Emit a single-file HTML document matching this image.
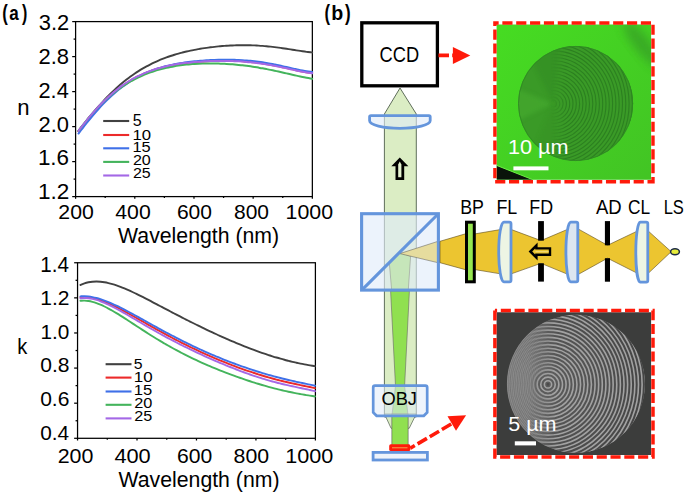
<!DOCTYPE html>
<html><head><meta charset="utf-8"><style>
html,body{margin:0;padding:0;background:#fff;}
svg{display:block;font-family:"Liberation Sans", sans-serif;}
</style></head><body>
<svg width="685" height="495" viewBox="0 0 685 495">
<rect width="685" height="495" fill="#fff"/>
<text transform="translate(2.27 19.94) scale(0.7572 1)" font-size="21.99" font-weight="bold" fill="#000">(</text>
<text transform="translate(9.30 20.20) scale(0.8423 1)" font-size="20.26" font-weight="bold" fill="#000">a</text>
<text transform="translate(21.98 19.94) scale(0.7250 1)" font-size="21.99" font-weight="bold" fill="#000">)</text>
<g stroke="#000" stroke-width="1.25" fill="none">
<rect x="75.60" y="21.60" width="236.75" height="175.00"/>
<line x1="72.20" y1="21.60" x2="75.60" y2="21.60"/>
<line x1="73.60" y1="39.10" x2="75.60" y2="39.10"/>
<line x1="72.20" y1="56.60" x2="75.60" y2="56.60"/>
<line x1="73.60" y1="74.10" x2="75.60" y2="74.10"/>
<line x1="72.20" y1="91.60" x2="75.60" y2="91.60"/>
<line x1="73.60" y1="109.10" x2="75.60" y2="109.10"/>
<line x1="72.20" y1="126.60" x2="75.60" y2="126.60"/>
<line x1="73.60" y1="144.10" x2="75.60" y2="144.10"/>
<line x1="72.20" y1="161.60" x2="75.60" y2="161.60"/>
<line x1="73.60" y1="179.10" x2="75.60" y2="179.10"/>
<line x1="72.20" y1="196.60" x2="75.60" y2="196.60"/>
<line x1="75.60" y1="196.60" x2="75.60" y2="198.80"/>
<line x1="105.19" y1="196.60" x2="105.19" y2="198.00"/>
<line x1="134.79" y1="196.60" x2="134.79" y2="198.80"/>
<line x1="164.38" y1="196.60" x2="164.38" y2="198.00"/>
<line x1="193.98" y1="196.60" x2="193.98" y2="198.80"/>
<line x1="223.57" y1="196.60" x2="223.57" y2="198.00"/>
<line x1="253.16" y1="196.60" x2="253.16" y2="198.80"/>
<line x1="282.76" y1="196.60" x2="282.76" y2="198.00"/>
<line x1="312.35" y1="196.60" x2="312.35" y2="198.80"/>
</g>
<text transform="translate(38.77 29.79) scale(1.0131 1)" font-size="21.61" fill="#000">3.2</text>
<text transform="translate(38.49 63.89) scale(1.0173 1)" font-size="21.61" fill="#000">2.8</text>
<text transform="translate(38.51 97.70) scale(0.9924 1)" font-size="21.91" fill="#000">2.4</text>
<text transform="translate(38.50 131.59) scale(1.0139 1)" font-size="21.61" fill="#000">2.0</text>
<text transform="translate(37.89 165.29) scale(1.0384 1)" font-size="21.61" fill="#000">1.6</text>
<text transform="translate(37.88 199.40) scale(1.0293 1)" font-size="21.91" fill="#000">1.2</text>
<text transform="translate(17.33 114.80) scale(1.0264 1)" font-size="21.56" fill="#000">n</text>
<text transform="translate(58.33 219.39) scale(1.0111 1)" font-size="21.04" fill="#000">200</text>
<text transform="translate(115.31 219.39) scale(1.0086 1)" font-size="21.04" fill="#000">400</text>
<text transform="translate(176.93 219.39) scale(0.9993 1)" font-size="21.04" fill="#000">600</text>
<text transform="translate(233.99 219.39) scale(0.9977 1)" font-size="21.04" fill="#000">800</text>
<text transform="translate(285.57 219.39) scale(1.0137 1)" font-size="21.04" fill="#000">1000</text>
<text transform="translate(118.11 243.30) scale(0.9807 1)" font-size="21.67" fill="#000">Wavelength (nm)</text>
<g fill="none" stroke-linecap="round" stroke-linejoin="round">
<path d="M78.50 130.89 C79.17 130.04 81.17 127.47 82.50 125.78 C83.83 124.09 85.17 122.41 86.50 120.75 C87.83 119.09 89.17 117.45 90.50 115.84 C91.83 114.22 93.17 112.63 94.50 111.07 C95.83 109.50 97.17 107.96 98.50 106.45 C99.83 104.95 101.17 103.47 102.50 102.02 C103.83 100.57 105.17 99.15 106.50 97.77 C107.83 96.39 109.17 95.04 110.50 93.72 C111.83 92.40 113.17 91.12 114.50 89.87 C115.83 88.63 117.17 87.41 118.50 86.23 C119.83 85.05 121.17 83.91 122.50 82.80 C123.83 81.69 125.17 80.62 126.50 79.57 C127.83 78.53 129.17 77.53 130.50 76.55 C131.83 75.58 133.17 74.64 134.50 73.73 C135.83 72.82 137.17 71.94 138.50 71.10 C139.83 70.25 141.17 69.44 142.50 68.65 C143.83 67.86 145.17 67.11 146.50 66.38 C147.83 65.65 149.17 64.96 150.50 64.28 C151.83 63.61 153.17 62.97 154.50 62.34 C155.83 61.72 157.17 61.13 158.50 60.56 C159.83 59.99 161.17 59.44 162.50 58.91 C163.83 58.39 165.17 57.88 166.50 57.40 C167.83 56.92 169.17 56.46 170.50 56.01 C171.83 55.57 173.17 55.15 174.50 54.74 C175.83 54.33 177.17 53.94 178.50 53.57 C179.83 53.20 181.17 52.85 182.50 52.50 C183.83 52.16 185.17 51.84 186.50 51.53 C187.83 51.22 189.17 50.92 190.50 50.64 C191.83 50.36 193.17 50.09 194.50 49.83 C195.83 49.57 197.17 49.33 198.50 49.09 C199.83 48.86 201.17 48.64 202.50 48.43 C203.83 48.21 205.17 48.01 206.50 47.83 C207.83 47.64 209.17 47.46 210.50 47.29 C211.83 47.12 213.17 46.96 214.50 46.82 C215.83 46.67 217.17 46.53 218.50 46.40 C219.83 46.27 221.17 46.16 222.50 46.05 C223.83 45.94 225.17 45.84 226.50 45.75 C227.83 45.66 229.17 45.59 230.50 45.52 C231.83 45.45 233.17 45.39 234.50 45.34 C235.83 45.30 237.17 45.26 238.50 45.23 C239.83 45.20 241.17 45.19 242.50 45.18 C243.83 45.17 245.17 45.18 246.50 45.19 C247.83 45.21 249.17 45.24 250.50 45.27 C251.83 45.31 253.17 45.36 254.50 45.42 C255.83 45.48 257.17 45.55 258.50 45.63 C259.83 45.71 261.17 45.80 262.50 45.91 C263.83 46.01 265.17 46.12 266.50 46.25 C267.83 46.37 269.17 46.51 270.50 46.65 C271.83 46.80 273.17 46.95 274.50 47.11 C275.83 47.28 277.17 47.45 278.50 47.63 C279.83 47.81 281.17 48.00 282.50 48.19 C283.83 48.38 285.17 48.59 286.50 48.79 C287.83 48.99 289.17 49.20 290.50 49.41 C291.83 49.62 293.17 49.84 294.50 50.05 C295.83 50.26 297.17 50.47 298.50 50.67 C299.83 50.88 301.17 51.08 302.50 51.27 C303.83 51.46 305.17 51.65 306.50 51.82 C307.83 51.98 309.55 52.17 310.50 52.28 C311.45 52.38 311.92 52.41 312.20 52.44" stroke="#414141" stroke-width="1.90"/>
<path d="M78.50 131.24 C79.17 130.36 81.17 127.68 82.50 125.95 C83.83 124.22 85.17 122.52 86.50 120.86 C87.83 119.20 89.17 117.58 90.50 115.99 C91.83 114.40 93.17 112.86 94.50 111.35 C95.83 109.84 97.17 108.38 98.50 106.95 C99.83 105.53 101.17 104.14 102.50 102.80 C103.83 101.46 105.17 100.15 106.50 98.90 C107.83 97.64 109.17 96.42 110.50 95.24 C111.83 94.07 113.17 92.93 114.50 91.84 C115.83 90.75 117.17 89.69 118.50 88.68 C119.83 87.67 121.17 86.69 122.50 85.76 C123.83 84.82 125.17 83.93 126.50 83.07 C127.83 82.21 129.17 81.38 130.50 80.60 C131.83 79.81 133.17 79.05 134.50 78.33 C135.83 77.61 137.17 76.93 138.50 76.27 C139.83 75.62 141.17 74.99 142.50 74.40 C143.83 73.81 145.17 73.24 146.50 72.70 C147.83 72.17 149.17 71.66 150.50 71.17 C151.83 70.69 153.17 70.23 154.50 69.79 C155.83 69.35 157.17 68.94 158.50 68.55 C159.83 68.16 161.17 67.79 162.50 67.44 C163.83 67.09 165.17 66.76 166.50 66.45 C167.83 66.14 169.17 65.84 170.50 65.56 C171.83 65.29 173.17 65.03 174.50 64.78 C175.83 64.53 177.17 64.30 178.50 64.08 C179.83 63.86 181.17 63.66 182.50 63.46 C183.83 63.27 185.17 63.09 186.50 62.92 C187.83 62.75 189.17 62.59 190.50 62.45 C191.83 62.30 193.17 62.16 194.50 62.03 C195.83 61.90 197.17 61.79 198.50 61.68 C199.83 61.57 201.17 61.47 202.50 61.38 C203.83 61.29 205.17 61.20 206.50 61.13 C207.83 61.05 209.17 60.99 210.50 60.93 C211.83 60.87 213.17 60.82 214.50 60.78 C215.83 60.74 217.17 60.71 218.50 60.69 C219.83 60.66 221.17 60.65 222.50 60.64 C223.83 60.63 225.17 60.63 226.50 60.65 C227.83 60.66 229.17 60.68 230.50 60.71 C231.83 60.74 233.17 60.77 234.50 60.82 C235.83 60.87 237.17 60.93 238.50 61.00 C239.83 61.07 241.17 61.15 242.50 61.24 C243.83 61.33 245.17 61.43 246.50 61.54 C247.83 61.65 249.17 61.77 250.50 61.91 C251.83 62.04 253.17 62.19 254.50 62.34 C255.83 62.50 257.17 62.67 258.50 62.85 C259.83 63.02 261.17 63.21 262.50 63.42 C263.83 63.62 265.17 63.83 266.50 64.05 C267.83 64.27 269.17 64.51 270.50 64.75 C271.83 64.99 273.17 65.25 274.50 65.51 C275.83 65.77 277.17 66.04 278.50 66.32 C279.83 66.59 281.17 66.88 282.50 67.16 C283.83 67.45 285.17 67.75 286.50 68.04 C287.83 68.33 289.17 68.63 290.50 68.93 C291.83 69.22 293.17 69.52 294.50 69.81 C295.83 70.10 297.17 70.39 298.50 70.66 C299.83 70.94 301.17 71.21 302.50 71.46 C303.83 71.71 305.17 71.95 306.50 72.17 C307.83 72.38 309.55 72.62 310.50 72.75 C311.45 72.88 311.92 72.91 312.20 72.95" stroke="#ec2a2a" stroke-width="2.00"/>
<path d="M78.50 133.53 C79.17 132.66 81.17 130.03 82.50 128.31 C83.83 126.58 85.17 124.88 86.50 123.21 C87.83 121.54 89.17 119.89 90.50 118.28 C91.83 116.66 93.17 115.08 94.50 113.53 C95.83 111.98 97.17 110.46 98.50 108.99 C99.83 107.51 101.17 106.07 102.50 104.67 C103.83 103.27 105.17 101.91 106.50 100.59 C107.83 99.27 109.17 97.99 110.50 96.75 C111.83 95.51 113.17 94.31 114.50 93.15 C115.83 92.00 117.17 90.88 118.50 89.80 C119.83 88.73 121.17 87.69 122.50 86.70 C123.83 85.70 125.17 84.74 126.50 83.82 C127.83 82.91 129.17 82.03 130.50 81.18 C131.83 80.34 133.17 79.54 134.50 78.76 C135.83 77.99 137.17 77.26 138.50 76.56 C139.83 75.86 141.17 75.19 142.50 74.55 C143.83 73.92 145.17 73.31 146.50 72.74 C147.83 72.16 149.17 71.61 150.50 71.10 C151.83 70.58 153.17 70.09 154.50 69.62 C155.83 69.15 157.17 68.71 158.50 68.30 C159.83 67.88 161.17 67.49 162.50 67.11 C163.83 66.74 165.17 66.39 166.50 66.05 C167.83 65.72 169.17 65.41 170.50 65.11 C171.83 64.82 173.17 64.54 174.50 64.28 C175.83 64.01 177.17 63.77 178.50 63.53 C179.83 63.30 181.17 63.08 182.50 62.88 C183.83 62.67 185.17 62.48 186.50 62.30 C187.83 62.12 189.17 61.95 190.50 61.79 C191.83 61.63 193.17 61.48 194.50 61.35 C195.83 61.21 197.17 61.08 198.50 60.96 C199.83 60.84 201.17 60.73 202.50 60.63 C203.83 60.53 205.17 60.44 206.50 60.35 C207.83 60.27 209.17 60.19 210.50 60.12 C211.83 60.06 213.17 60.00 214.50 59.95 C215.83 59.90 217.17 59.85 218.50 59.82 C219.83 59.78 221.17 59.76 222.50 59.74 C223.83 59.73 225.17 59.72 226.50 59.72 C227.83 59.72 229.17 59.73 230.50 59.75 C231.83 59.77 233.17 59.80 234.50 59.84 C235.83 59.88 237.17 59.93 238.50 59.99 C239.83 60.05 241.17 60.12 242.50 60.21 C243.83 60.29 245.17 60.38 246.50 60.49 C247.83 60.60 249.17 60.71 250.50 60.84 C251.83 60.97 253.17 61.12 254.50 61.27 C255.83 61.42 257.17 61.59 258.50 61.77 C259.83 61.95 261.17 62.14 262.50 62.34 C263.83 62.54 265.17 62.76 266.50 62.98 C267.83 63.21 269.17 63.45 270.50 63.70 C271.83 63.94 273.17 64.20 274.50 64.47 C275.83 64.74 277.17 65.01 278.50 65.30 C279.83 65.58 281.17 65.87 282.50 66.17 C283.83 66.47 285.17 66.77 286.50 67.07 C287.83 67.37 289.17 67.68 290.50 67.98 C291.83 68.28 293.17 68.59 294.50 68.88 C295.83 69.17 297.17 69.47 298.50 69.74 C299.83 70.02 301.17 70.28 302.50 70.53 C303.83 70.77 305.17 71.01 306.50 71.21 C307.83 71.41 309.55 71.62 310.50 71.73 C311.45 71.84 311.92 71.87 312.20 71.89" stroke="#3f70e8" stroke-width="2.00"/>
<path d="M78.50 130.95 C79.17 130.06 81.17 127.34 82.50 125.60 C83.83 123.86 85.17 122.16 86.50 120.51 C87.83 118.86 89.17 117.26 90.50 115.70 C91.83 114.14 93.17 112.62 94.50 111.15 C95.83 109.68 97.17 108.25 98.50 106.86 C99.83 105.48 101.17 104.14 102.50 102.84 C103.83 101.55 105.17 100.29 106.50 99.08 C107.83 97.87 109.17 96.70 110.50 95.56 C111.83 94.43 113.17 93.35 114.50 92.29 C115.83 91.24 117.17 90.23 118.50 89.26 C119.83 88.29 121.17 87.35 122.50 86.45 C123.83 85.55 125.17 84.69 126.50 83.86 C127.83 83.04 129.17 82.24 130.50 81.48 C131.83 80.72 133.17 80.00 134.50 79.30 C135.83 78.61 137.17 77.94 138.50 77.31 C139.83 76.67 141.17 76.07 142.50 75.49 C143.83 74.92 145.17 74.37 146.50 73.85 C147.83 73.32 149.17 72.83 150.50 72.36 C151.83 71.89 153.17 71.44 154.50 71.02 C155.83 70.59 157.17 70.19 158.50 69.82 C159.83 69.44 161.17 69.08 162.50 68.74 C163.83 68.41 165.17 68.09 166.50 67.80 C167.83 67.50 169.17 67.22 170.50 66.96 C171.83 66.70 173.17 66.46 174.50 66.23 C175.83 66.00 177.17 65.79 178.50 65.60 C179.83 65.40 181.17 65.22 182.50 65.06 C183.83 64.89 185.17 64.74 186.50 64.60 C187.83 64.47 189.17 64.34 190.50 64.23 C191.83 64.12 193.17 64.02 194.50 63.93 C195.83 63.85 197.17 63.77 198.50 63.71 C199.83 63.64 201.17 63.59 202.50 63.55 C203.83 63.51 205.17 63.48 206.50 63.46 C207.83 63.44 209.17 63.43 210.50 63.43 C211.83 63.43 213.17 63.44 214.50 63.46 C215.83 63.49 217.17 63.52 218.50 63.56 C219.83 63.60 221.17 63.65 222.50 63.71 C223.83 63.77 225.17 63.84 226.50 63.92 C227.83 63.99 229.17 64.08 230.50 64.18 C231.83 64.28 233.17 64.39 234.50 64.50 C235.83 64.62 237.17 64.75 238.50 64.88 C239.83 65.02 241.17 65.16 242.50 65.32 C243.83 65.47 245.17 65.64 246.50 65.81 C247.83 65.98 249.17 66.16 250.50 66.36 C251.83 66.55 253.17 66.75 254.50 66.96 C255.83 67.17 257.17 67.38 258.50 67.61 C259.83 67.84 261.17 68.07 262.50 68.32 C263.83 68.56 265.17 68.81 266.50 69.07 C267.83 69.33 269.17 69.59 270.50 69.87 C271.83 70.14 273.17 70.42 274.50 70.70 C275.83 70.99 277.17 71.28 278.50 71.57 C279.83 71.87 281.17 72.17 282.50 72.47 C283.83 72.77 285.17 73.08 286.50 73.38 C287.83 73.69 289.17 74.00 290.50 74.30 C291.83 74.61 293.17 74.92 294.50 75.22 C295.83 75.52 297.17 75.82 298.50 76.11 C299.83 76.40 301.17 76.68 302.50 76.96 C303.83 77.23 305.17 77.50 306.50 77.75 C307.83 78.00 309.55 78.30 310.50 78.46 C311.45 78.62 311.92 78.68 312.20 78.73" stroke="#44b45c" stroke-width="2.00"/>
<path d="M78.50 130.91 C79.17 130.04 81.17 127.37 82.50 125.65 C83.83 123.93 85.17 122.24 86.50 120.58 C87.83 118.92 89.17 117.30 90.50 115.72 C91.83 114.13 93.17 112.59 94.50 111.08 C95.83 109.57 97.17 108.10 98.50 106.68 C99.83 105.25 101.17 103.86 102.50 102.52 C103.83 101.17 105.17 99.87 106.50 98.61 C107.83 97.35 109.17 96.12 110.50 94.95 C111.83 93.77 113.17 92.63 114.50 91.53 C115.83 90.43 117.17 89.38 118.50 88.36 C119.83 87.34 121.17 86.37 122.50 85.43 C123.83 84.49 125.17 83.59 126.50 82.73 C127.83 81.86 129.17 81.04 130.50 80.25 C131.83 79.46 133.17 78.70 134.50 77.98 C135.83 77.26 137.17 76.58 138.50 75.92 C139.83 75.26 141.17 74.64 142.50 74.05 C143.83 73.46 145.17 72.89 146.50 72.36 C147.83 71.82 149.17 71.32 150.50 70.84 C151.83 70.35 153.17 69.90 154.50 69.47 C155.83 69.04 157.17 68.63 158.50 68.25 C159.83 67.86 161.17 67.50 162.50 67.16 C163.83 66.81 165.17 66.49 166.50 66.19 C167.83 65.88 169.17 65.60 170.50 65.33 C171.83 65.06 173.17 64.81 174.50 64.57 C175.83 64.34 177.17 64.12 178.50 63.91 C179.83 63.70 181.17 63.51 182.50 63.33 C183.83 63.15 185.17 62.98 186.50 62.82 C187.83 62.67 189.17 62.52 190.50 62.39 C191.83 62.25 193.17 62.13 194.50 62.01 C195.83 61.90 197.17 61.79 198.50 61.70 C199.83 61.60 201.17 61.52 202.50 61.44 C203.83 61.36 205.17 61.29 206.50 61.23 C207.83 61.17 209.17 61.11 210.50 61.07 C211.83 61.02 213.17 60.99 214.50 60.96 C215.83 60.93 217.17 60.91 218.50 60.90 C219.83 60.88 221.17 60.88 222.50 60.88 C223.83 60.89 225.17 60.90 226.50 60.92 C227.83 60.94 229.17 60.97 230.50 61.00 C231.83 61.04 233.17 61.09 234.50 61.14 C235.83 61.20 237.17 61.26 238.50 61.34 C239.83 61.41 241.17 61.49 242.50 61.59 C243.83 61.68 245.17 61.79 246.50 61.90 C247.83 62.01 249.17 62.14 250.50 62.27 C251.83 62.41 253.17 62.55 254.50 62.71 C255.83 62.86 257.17 63.03 258.50 63.21 C259.83 63.38 261.17 63.57 262.50 63.77 C263.83 63.97 265.17 64.18 266.50 64.39 C267.83 64.61 269.17 64.84 270.50 65.08 C271.83 65.32 273.17 65.57 274.50 65.82 C275.83 66.08 277.17 66.34 278.50 66.61 C279.83 66.88 281.17 67.16 282.50 67.44 C283.83 67.73 285.17 68.02 286.50 68.31 C287.83 68.59 289.17 68.89 290.50 69.18 C291.83 69.47 293.17 69.77 294.50 70.06 C295.83 70.35 297.17 70.64 298.50 70.91 C299.83 71.19 301.17 71.46 302.50 71.72 C303.83 71.97 305.17 72.22 306.50 72.45 C307.83 72.67 309.55 72.93 310.50 73.06 C311.45 73.20 311.92 73.25 312.20 73.28" stroke="#a468e6" stroke-width="2.00"/>
</g>
<line x1="103.20" y1="121.00" x2="129.20" y2="121.00" stroke="#414141" stroke-width="2.1"/>
<text transform="translate(132.76 125.95) scale(1.0168 1)" font-size="15.76" fill="#000">5</text>
<line x1="103.20" y1="135.00" x2="129.20" y2="135.00" stroke="#ec2a2a" stroke-width="2.1"/>
<text transform="translate(132.42 139.55) scale(1.0980 1)" font-size="15.25" fill="#000">10</text>
<line x1="103.20" y1="148.30" x2="129.20" y2="148.30" stroke="#3f70e8" stroke-width="2.1"/>
<text transform="translate(132.45 152.25) scale(1.0593 1)" font-size="15.48" fill="#000">15</text>
<line x1="103.20" y1="161.90" x2="129.20" y2="161.90" stroke="#44b45c" stroke-width="2.1"/>
<text transform="translate(132.89 164.85) scale(1.0574 1)" font-size="15.25" fill="#000">20</text>
<line x1="103.20" y1="175.50" x2="129.20" y2="175.50" stroke="#a468e6" stroke-width="2.1"/>
<text transform="translate(132.90 178.05) scale(1.0476 1)" font-size="15.25" fill="#000">25</text>
<g stroke="#000" stroke-width="1.25" fill="none">
<rect x="77.55" y="262.75" width="237.85" height="175.55"/>
<line x1="74.15" y1="262.75" x2="77.55" y2="262.75"/>
<line x1="75.55" y1="280.31" x2="77.55" y2="280.31"/>
<line x1="74.15" y1="297.86" x2="77.55" y2="297.86"/>
<line x1="75.55" y1="315.42" x2="77.55" y2="315.42"/>
<line x1="74.15" y1="332.97" x2="77.55" y2="332.97"/>
<line x1="75.55" y1="350.53" x2="77.55" y2="350.53"/>
<line x1="74.15" y1="368.08" x2="77.55" y2="368.08"/>
<line x1="75.55" y1="385.63" x2="77.55" y2="385.63"/>
<line x1="74.15" y1="403.19" x2="77.55" y2="403.19"/>
<line x1="75.55" y1="420.75" x2="77.55" y2="420.75"/>
<line x1="74.15" y1="438.30" x2="77.55" y2="438.30"/>
<line x1="77.55" y1="438.30" x2="77.55" y2="440.50"/>
<line x1="107.28" y1="438.30" x2="107.28" y2="439.70"/>
<line x1="137.01" y1="438.30" x2="137.01" y2="440.50"/>
<line x1="166.74" y1="438.30" x2="166.74" y2="439.70"/>
<line x1="196.47" y1="438.30" x2="196.47" y2="440.50"/>
<line x1="226.21" y1="438.30" x2="226.21" y2="439.70"/>
<line x1="255.94" y1="438.30" x2="255.94" y2="440.50"/>
<line x1="285.67" y1="438.30" x2="285.67" y2="439.70"/>
<line x1="315.40" y1="438.30" x2="315.40" y2="440.50"/>
</g>
<text transform="translate(40.23 271.90) scale(0.9589 1)" font-size="21.51" fill="#000">1.4</text>
<text transform="translate(40.20 304.90) scale(1.0574 1)" font-size="19.91" fill="#000">1.2</text>
<text transform="translate(40.42 338.80) scale(0.9944 1)" font-size="20.90" fill="#000">1.0</text>
<text transform="translate(40.18 372.10) scale(1.0486 1)" font-size="20.06" fill="#000">0.8</text>
<text transform="translate(40.18 406.40) scale(1.0202 1)" font-size="20.62" fill="#000">0.6</text>
<text transform="translate(40.19 439.90) scale(1.0159 1)" font-size="20.48" fill="#000">0.4</text>
<text transform="translate(17.35 353.80) scale(0.9310 1)" font-size="21.53" fill="#000">k</text>
<text transform="translate(57.72 463.00) scale(1.0309 1)" font-size="20.76" fill="#000">200</text>
<text transform="translate(114.40 463.00) scale(1.0494 1)" font-size="20.76" fill="#000">400</text>
<text transform="translate(176.93 463.00) scale(1.0190 1)" font-size="20.76" fill="#000">600</text>
<text transform="translate(233.57 463.00) scale(1.0265 1)" font-size="20.76" fill="#000">800</text>
<text transform="translate(285.15 463.00) scale(1.0412 1)" font-size="20.76" fill="#000">1000</text>
<text transform="translate(118.51 486.70) scale(0.9813 1)" font-size="21.67" fill="#000">Wavelength (nm)</text>
<g fill="none" stroke-linecap="round" stroke-linejoin="round">
<path d="M80.45 285.00 C81.12 284.73 83.12 283.82 84.45 283.37 C85.78 282.92 87.12 282.58 88.45 282.30 C89.78 282.02 91.12 281.83 92.45 281.70 C93.78 281.57 95.12 281.53 96.45 281.53 C97.78 281.54 99.12 281.61 100.45 281.74 C101.78 281.86 103.12 282.04 104.45 282.27 C105.78 282.49 107.12 282.77 108.45 283.08 C109.78 283.39 111.12 283.75 112.45 284.14 C113.78 284.53 115.12 284.96 116.45 285.41 C117.78 285.86 119.12 286.35 120.45 286.86 C121.78 287.36 123.12 287.90 124.45 288.45 C125.78 289.01 127.12 289.58 128.45 290.17 C129.78 290.76 131.12 291.38 132.45 292.00 C133.78 292.62 135.12 293.26 136.45 293.90 C137.78 294.55 139.12 295.21 140.45 295.87 C141.78 296.54 143.12 297.21 144.45 297.89 C145.78 298.57 147.12 299.26 148.45 299.95 C149.78 300.64 151.12 301.34 152.45 302.04 C153.78 302.73 155.12 303.43 156.45 304.13 C157.78 304.84 159.12 305.54 160.45 306.24 C161.78 306.95 163.12 307.65 164.45 308.35 C165.78 309.05 167.12 309.76 168.45 310.46 C169.78 311.16 171.12 311.85 172.45 312.55 C173.78 313.25 175.12 313.94 176.45 314.63 C177.78 315.32 179.12 316.01 180.45 316.70 C181.78 317.38 183.12 318.07 184.45 318.74 C185.78 319.42 187.12 320.10 188.45 320.77 C189.78 321.44 191.12 322.11 192.45 322.77 C193.78 323.44 195.12 324.10 196.45 324.75 C197.78 325.41 199.12 326.06 200.45 326.71 C201.78 327.36 203.12 328.00 204.45 328.64 C205.78 329.28 207.12 329.91 208.45 330.54 C209.78 331.17 211.12 331.80 212.45 332.42 C213.78 333.04 215.12 333.65 216.45 334.26 C217.78 334.88 219.12 335.48 220.45 336.08 C221.78 336.68 223.12 337.28 224.45 337.87 C225.78 338.46 227.12 339.05 228.45 339.63 C229.78 340.21 231.12 340.78 232.45 341.35 C233.78 341.92 235.12 342.48 236.45 343.04 C237.78 343.59 239.12 344.14 240.45 344.69 C241.78 345.23 243.12 345.77 244.45 346.30 C245.78 346.83 247.12 347.36 248.45 347.87 C249.78 348.39 251.12 348.90 252.45 349.40 C253.78 349.90 255.12 350.40 256.45 350.88 C257.78 351.37 259.12 351.85 260.45 352.32 C261.78 352.79 263.12 353.25 264.45 353.70 C265.78 354.16 267.12 354.60 268.45 355.04 C269.78 355.47 271.12 355.90 272.45 356.31 C273.78 356.73 275.12 357.14 276.45 357.53 C277.78 357.93 279.12 358.32 280.45 358.69 C281.78 359.07 283.12 359.44 284.45 359.79 C285.78 360.15 287.12 360.49 288.45 360.83 C289.78 361.16 291.12 361.49 292.45 361.80 C293.78 362.12 295.12 362.42 296.45 362.72 C297.78 363.01 299.12 363.29 300.45 363.57 C301.78 363.84 303.12 364.10 304.45 364.36 C305.78 364.61 307.12 364.86 308.45 365.09 C309.78 365.33 311.36 365.59 312.45 365.77 C313.54 365.96 314.57 366.12 315.00 366.18" stroke="#414141" stroke-width="1.90"/>
<path d="M80.45 297.17 C81.12 297.16 83.12 297.06 84.45 297.11 C85.78 297.15 87.12 297.27 88.45 297.44 C89.78 297.61 91.12 297.85 92.45 298.13 C93.78 298.41 95.12 298.74 96.45 299.12 C97.78 299.49 99.12 299.91 100.45 300.36 C101.78 300.81 103.12 301.31 104.45 301.83 C105.78 302.35 107.12 302.90 108.45 303.48 C109.78 304.05 111.12 304.66 112.45 305.28 C113.78 305.91 115.12 306.55 116.45 307.22 C117.78 307.88 119.12 308.56 120.45 309.25 C121.78 309.94 123.12 310.65 124.45 311.36 C125.78 312.08 127.12 312.81 128.45 313.54 C129.78 314.27 131.12 315.01 132.45 315.76 C133.78 316.50 135.12 317.25 136.45 318.01 C137.78 318.76 139.12 319.52 140.45 320.27 C141.78 321.03 143.12 321.79 144.45 322.54 C145.78 323.30 147.12 324.05 148.45 324.81 C149.78 325.56 151.12 326.31 152.45 327.06 C153.78 327.81 155.12 328.56 156.45 329.30 C157.78 330.04 159.12 330.78 160.45 331.52 C161.78 332.25 163.12 332.98 164.45 333.70 C165.78 334.43 167.12 335.15 168.45 335.86 C169.78 336.57 171.12 337.28 172.45 337.98 C173.78 338.68 175.12 339.38 176.45 340.07 C177.78 340.76 179.12 341.45 180.45 342.12 C181.78 342.80 183.12 343.47 184.45 344.14 C185.78 344.80 187.12 345.46 188.45 346.11 C189.78 346.77 191.12 347.41 192.45 348.05 C193.78 348.69 195.12 349.33 196.45 349.95 C197.78 350.58 199.12 351.20 200.45 351.81 C201.78 352.43 203.12 353.04 204.45 353.64 C205.78 354.24 207.12 354.83 208.45 355.42 C209.78 356.01 211.12 356.59 212.45 357.17 C213.78 357.74 215.12 358.31 216.45 358.88 C217.78 359.44 219.12 360.00 220.45 360.55 C221.78 361.10 223.12 361.64 224.45 362.18 C225.78 362.71 227.12 363.24 228.45 363.77 C229.78 364.29 231.12 364.81 232.45 365.32 C233.78 365.83 235.12 366.33 236.45 366.83 C237.78 367.33 239.12 367.82 240.45 368.30 C241.78 368.79 243.12 369.26 244.45 369.73 C245.78 370.20 247.12 370.66 248.45 371.12 C249.78 371.57 251.12 372.02 252.45 372.46 C253.78 372.90 255.12 373.33 256.45 373.76 C257.78 374.18 259.12 374.60 260.45 375.01 C261.78 375.42 263.12 375.82 264.45 376.22 C265.78 376.61 267.12 377.00 268.45 377.38 C269.78 377.76 271.12 378.13 272.45 378.50 C273.78 378.86 275.12 379.22 276.45 379.57 C277.78 379.92 279.12 380.26 280.45 380.59 C281.78 380.93 283.12 381.25 284.45 381.57 C285.78 381.89 287.12 382.21 288.45 382.52 C289.78 382.82 291.12 383.12 292.45 383.42 C293.78 383.72 295.12 384.00 296.45 384.29 C297.78 384.58 299.12 384.86 300.45 385.13 C301.78 385.41 303.12 385.68 304.45 385.95 C305.78 386.22 307.12 386.49 308.45 386.76 C309.78 387.03 311.36 387.34 312.45 387.56 C313.54 387.78 314.57 387.99 315.00 388.08" stroke="#ec2a2a" stroke-width="1.90"/>
<path d="M80.45 296.35 C81.12 296.33 83.12 296.21 84.45 296.23 C85.78 296.26 87.12 296.35 88.45 296.50 C89.78 296.64 91.12 296.85 92.45 297.10 C93.78 297.35 95.12 297.66 96.45 298.00 C97.78 298.34 99.12 298.73 100.45 299.15 C101.78 299.58 103.12 300.04 104.45 300.53 C105.78 301.02 107.12 301.54 108.45 302.09 C109.78 302.63 111.12 303.21 112.45 303.80 C113.78 304.40 115.12 305.02 116.45 305.65 C117.78 306.28 119.12 306.94 120.45 307.60 C121.78 308.27 123.12 308.95 124.45 309.64 C125.78 310.33 127.12 311.04 128.45 311.75 C129.78 312.46 131.12 313.18 132.45 313.90 C133.78 314.63 135.12 315.36 136.45 316.09 C137.78 316.83 139.12 317.57 140.45 318.31 C141.78 319.05 143.12 319.79 144.45 320.53 C145.78 321.27 147.12 322.02 148.45 322.76 C149.78 323.50 151.12 324.24 152.45 324.98 C153.78 325.72 155.12 326.45 156.45 327.19 C157.78 327.92 159.12 328.65 160.45 329.37 C161.78 330.10 163.12 330.82 164.45 331.54 C165.78 332.26 167.12 332.97 168.45 333.68 C169.78 334.38 171.12 335.09 172.45 335.78 C173.78 336.48 175.12 337.17 176.45 337.86 C177.78 338.54 179.12 339.22 180.45 339.89 C181.78 340.57 183.12 341.23 184.45 341.89 C185.78 342.55 187.12 343.21 188.45 343.86 C189.78 344.50 191.12 345.15 192.45 345.78 C193.78 346.42 195.12 347.05 196.45 347.67 C197.78 348.29 199.12 348.91 200.45 349.51 C201.78 350.12 203.12 350.73 204.45 351.32 C205.78 351.92 207.12 352.51 208.45 353.09 C209.78 353.67 211.12 354.25 212.45 354.82 C213.78 355.39 215.12 355.95 216.45 356.51 C217.78 357.07 219.12 357.62 220.45 358.16 C221.78 358.70 223.12 359.24 224.45 359.77 C225.78 360.30 227.12 360.82 228.45 361.34 C229.78 361.86 231.12 362.37 232.45 362.87 C233.78 363.37 235.12 363.87 236.45 364.36 C237.78 364.85 239.12 365.34 240.45 365.81 C241.78 366.29 243.12 366.76 244.45 367.22 C245.78 367.69 247.12 368.14 248.45 368.59 C249.78 369.04 251.12 369.48 252.45 369.92 C253.78 370.35 255.12 370.78 256.45 371.20 C257.78 371.62 259.12 372.04 260.45 372.45 C261.78 372.85 263.12 373.25 264.45 373.65 C265.78 374.04 267.12 374.43 268.45 374.80 C269.78 375.18 271.12 375.56 272.45 375.92 C273.78 376.29 275.12 376.64 276.45 377.00 C277.78 377.35 279.12 377.69 280.45 378.03 C281.78 378.37 283.12 378.70 284.45 379.03 C285.78 379.35 287.12 379.67 288.45 379.99 C289.78 380.30 291.12 380.61 292.45 380.91 C293.78 381.22 295.12 381.51 296.45 381.81 C297.78 382.10 299.12 382.39 300.45 382.67 C301.78 382.96 303.12 383.24 304.45 383.52 C305.78 383.80 307.12 384.08 308.45 384.35 C309.78 384.63 311.36 384.96 312.45 385.18 C313.54 385.41 314.57 385.62 315.00 385.71" stroke="#3f70e8" stroke-width="1.90"/>
<path d="M80.45 300.78 C81.12 300.76 83.12 300.61 84.45 300.66 C85.78 300.70 87.12 300.85 88.45 301.06 C89.78 301.27 91.12 301.56 92.45 301.91 C93.78 302.25 95.12 302.67 96.45 303.14 C97.78 303.60 99.12 304.13 100.45 304.69 C101.78 305.25 103.12 305.87 104.45 306.51 C105.78 307.16 107.12 307.84 108.45 308.55 C109.78 309.26 111.12 310.01 112.45 310.77 C113.78 311.54 115.12 312.33 116.45 313.13 C117.78 313.93 119.12 314.76 120.45 315.59 C121.78 316.43 123.12 317.28 124.45 318.13 C125.78 318.99 127.12 319.85 128.45 320.72 C129.78 321.59 131.12 322.46 132.45 323.33 C133.78 324.21 135.12 325.08 136.45 325.96 C137.78 326.83 139.12 327.70 140.45 328.57 C141.78 329.44 143.12 330.31 144.45 331.16 C145.78 332.02 147.12 332.88 148.45 333.73 C149.78 334.57 151.12 335.41 152.45 336.24 C153.78 337.07 155.12 337.90 156.45 338.71 C157.78 339.53 159.12 340.33 160.45 341.13 C161.78 341.93 163.12 342.71 164.45 343.49 C165.78 344.26 167.12 345.03 168.45 345.79 C169.78 346.54 171.12 347.29 172.45 348.03 C173.78 348.76 175.12 349.49 176.45 350.20 C177.78 350.92 179.12 351.62 180.45 352.32 C181.78 353.01 183.12 353.70 184.45 354.37 C185.78 355.05 187.12 355.72 188.45 356.37 C189.78 357.03 191.12 357.68 192.45 358.32 C193.78 358.95 195.12 359.58 196.45 360.20 C197.78 360.82 199.12 361.44 200.45 362.04 C201.78 362.64 203.12 363.24 204.45 363.83 C205.78 364.42 207.12 365.00 208.45 365.57 C209.78 366.14 211.12 366.71 212.45 367.26 C213.78 367.82 215.12 368.37 216.45 368.92 C217.78 369.46 219.12 370.00 220.45 370.53 C221.78 371.06 223.12 371.58 224.45 372.10 C225.78 372.62 227.12 373.13 228.45 373.63 C229.78 374.14 231.12 374.64 232.45 375.13 C233.78 375.62 235.12 376.11 236.45 376.58 C237.78 377.06 239.12 377.54 240.45 378.00 C241.78 378.47 243.12 378.93 244.45 379.38 C245.78 379.84 247.12 380.28 248.45 380.73 C249.78 381.17 251.12 381.60 252.45 382.03 C253.78 382.45 255.12 382.87 256.45 383.29 C257.78 383.70 259.12 384.11 260.45 384.50 C261.78 384.90 263.12 385.29 264.45 385.68 C265.78 386.06 267.12 386.44 268.45 386.81 C269.78 387.17 271.12 387.53 272.45 387.89 C273.78 388.24 275.12 388.58 276.45 388.92 C277.78 389.25 279.12 389.58 280.45 389.90 C281.78 390.22 283.12 390.53 284.45 390.83 C285.78 391.13 287.12 391.43 288.45 391.71 C289.78 392.00 291.12 392.28 292.45 392.55 C293.78 392.82 295.12 393.08 296.45 393.33 C297.78 393.59 299.12 393.83 300.45 394.07 C301.78 394.31 303.12 394.54 304.45 394.77 C305.78 395.00 307.12 395.21 308.45 395.43 C309.78 395.65 311.36 395.89 312.45 396.06 C313.54 396.23 314.57 396.39 315.00 396.45" stroke="#44b45c" stroke-width="1.90"/>
<path d="M80.45 298.32 C81.12 298.27 83.12 298.05 84.45 298.04 C85.78 298.04 87.12 298.12 88.45 298.27 C89.78 298.42 91.12 298.65 92.45 298.94 C93.78 299.22 95.12 299.57 96.45 299.96 C97.78 300.36 99.12 300.81 100.45 301.30 C101.78 301.78 103.12 302.32 104.45 302.88 C105.78 303.45 107.12 304.05 108.45 304.68 C109.78 305.31 111.12 305.97 112.45 306.64 C113.78 307.32 115.12 308.02 116.45 308.73 C117.78 309.45 119.12 310.18 120.45 310.92 C121.78 311.67 123.12 312.43 124.45 313.19 C125.78 313.95 127.12 314.72 128.45 315.50 C129.78 316.28 131.12 317.06 132.45 317.84 C133.78 318.62 135.12 319.41 136.45 320.19 C137.78 320.98 139.12 321.77 140.45 322.55 C141.78 323.33 143.12 324.11 144.45 324.89 C145.78 325.67 147.12 326.44 148.45 327.21 C149.78 327.98 151.12 328.75 152.45 329.51 C153.78 330.27 155.12 331.02 156.45 331.77 C157.78 332.52 159.12 333.26 160.45 334.00 C161.78 334.73 163.12 335.46 164.45 336.19 C165.78 336.91 167.12 337.63 168.45 338.34 C169.78 339.05 171.12 339.75 172.45 340.45 C173.78 341.15 175.12 341.84 176.45 342.52 C177.78 343.21 179.12 343.88 180.45 344.56 C181.78 345.23 183.12 345.89 184.45 346.55 C185.78 347.21 187.12 347.87 188.45 348.51 C189.78 349.16 191.12 349.80 192.45 350.44 C193.78 351.08 195.12 351.71 196.45 352.33 C197.78 352.96 199.12 353.58 200.45 354.19 C201.78 354.81 203.12 355.42 204.45 356.02 C205.78 356.63 207.12 357.23 208.45 357.82 C209.78 358.42 211.12 359.00 212.45 359.59 C213.78 360.17 215.12 360.75 216.45 361.32 C217.78 361.90 219.12 362.46 220.45 363.03 C221.78 363.59 223.12 364.15 224.45 364.70 C225.78 365.25 227.12 365.80 228.45 366.33 C229.78 366.87 231.12 367.41 232.45 367.94 C233.78 368.46 235.12 368.98 236.45 369.50 C237.78 370.01 239.12 370.52 240.45 371.02 C241.78 371.52 243.12 372.01 244.45 372.50 C245.78 372.98 247.12 373.46 248.45 373.93 C249.78 374.40 251.12 374.86 252.45 375.32 C253.78 375.77 255.12 376.22 256.45 376.65 C257.78 377.09 259.12 377.52 260.45 377.94 C261.78 378.35 263.12 378.76 264.45 379.17 C265.78 379.57 267.12 379.96 268.45 380.34 C269.78 380.72 271.12 381.09 272.45 381.46 C273.78 381.82 275.12 382.18 276.45 382.52 C277.78 382.87 279.12 383.20 280.45 383.53 C281.78 383.86 283.12 384.18 284.45 384.50 C285.78 384.81 287.12 385.11 288.45 385.41 C289.78 385.71 291.12 386.01 292.45 386.30 C293.78 386.59 295.12 386.87 296.45 387.15 C297.78 387.43 299.12 387.71 300.45 387.99 C301.78 388.27 303.12 388.54 304.45 388.83 C305.78 389.11 307.12 389.39 308.45 389.68 C309.78 389.97 311.36 390.32 312.45 390.57 C313.54 390.82 314.57 391.07 315.00 391.17" stroke="#a468e6" stroke-width="1.90"/>
</g>
<line x1="105.60" y1="364.20" x2="131.50" y2="364.20" stroke="#414141" stroke-width="2.1"/>
<text transform="translate(133.87 368.95) scale(1.0413 1)" font-size="15.19" fill="#000">5</text>
<line x1="105.60" y1="377.60" x2="131.50" y2="377.60" stroke="#ec2a2a" stroke-width="2.1"/>
<text transform="translate(133.71 382.25) scale(1.1215 1)" font-size="15.11" fill="#000">10</text>
<line x1="105.60" y1="391.50" x2="131.50" y2="391.50" stroke="#3f70e8" stroke-width="2.1"/>
<text transform="translate(133.74 395.15) scale(1.0925 1)" font-size="15.19" fill="#000">15</text>
<line x1="105.60" y1="404.80" x2="131.50" y2="404.80" stroke="#44b45c" stroke-width="2.1"/>
<text transform="translate(134.18 407.85) scale(1.0904 1)" font-size="14.97" fill="#000">20</text>
<line x1="105.60" y1="418.40" x2="131.50" y2="418.40" stroke="#a468e6" stroke-width="2.1"/>
<text transform="translate(134.19 421.35) scale(1.0805 1)" font-size="14.97" fill="#000">25</text>
<text transform="translate(324.47 19.91) scale(0.7535 1)" font-size="22.10" font-weight="bold" fill="#000">(</text>
<text transform="translate(331.30 20.20) scale(0.9369 1)" font-size="20.97" font-weight="bold" fill="#000">b</text>
<text transform="translate(344.98 19.91) scale(0.7696 1)" font-size="22.10" font-weight="bold" fill="#000">)</text>
<path d="M400.0 88 L416.3 114 L416.3 417 L384.4 417 L384.4 114 Z" fill="#dbedc4" stroke="#4f5f4c" stroke-width="0.9"/>
<path d="M384.5 414 L416.2 414 L409.2 428.3 L391.1 428.3 Z" fill="#dbedc4" stroke="#4f5f4c" stroke-width="0.7"/>
<path d="M390.6 291 L409.4 291 L404.6 386 L407.9 414 L392.1 414 L395.5 386 Z" fill="#90e050" stroke="#666" stroke-width="0.6"/>
<rect x="391.9" y="414" width="16.2" height="32" fill="#90e050" stroke="#555" stroke-width="0.6"/>
<path d="M371 115.6 L429 115.6 Q430.2 115.6 430.2 116.8 L430.2 120.8 A30.3 7.5 0 0 1 369.6 120.8 L369.6 116.8 Q369.6 115.6 371 115.6 Z" fill="#e0ebfa" fill-opacity="0.6" stroke="#6495dc" stroke-width="2.8"/>
<rect x="361.8" y="22.8" width="75.6" height="63.0" fill="#fff" stroke="#000" stroke-width="3.3"/>
<text transform="translate(379.57 62.49) scale(0.8404 1)" font-size="21.75" fill="#000">CCD</text>
<line x1="438.5" y1="55.4" x2="454" y2="55.4" stroke="#ff1a0a" stroke-width="3.6" stroke-dasharray="10.5 3.2"/>
<path d="M452.9 47.1 L470.3 55.4 L452.9 64.1 Z" fill="#ff1a0a"/>
<path d="M399.8 157.6 L408.4 166.3 L404.2 166.3 L404.2 180.0 L395.5 180.0 L395.5 166.3 L391.3 166.3 Z" fill="#000"/>
<path d="M399.8 161.6 L401.4 164.4 L401.4 177.3 L398.2 177.3 L398.2 164.4 Z" fill="#e4f2d0"/>
<rect x="361.6" y="213.7" width="76.8" height="76.4" fill="#e0ebfa" fill-opacity="0.62" stroke="none"/>
<path d="M389.3 262.6 L399.8 252.4 L410.6 256.3 L408.3 290 L391.6 290 Z" fill="#c6e6ba" stroke="#888" stroke-width="0.5"/>
<path d="M399.8 253.6 L438.4 241.2 L438.4 262.8 Z" fill="#e6dc9e" stroke="#555" stroke-width="0.5"/>
<rect x="361.6" y="213.7" width="76.8" height="76.4" fill="none" stroke="#6495dc" stroke-width="3.1"/>
<line x1="362.5" y1="289.3" x2="437.6" y2="214.5" stroke="#6495dc" stroke-width="3.1"/>
<path d="M440 241.3 L465.5 233.8 L475.5 233.8 L499 229.8 L512 229.8 L541 240.6 L566 230.0 L579 229.4 L607.5 245.3 L636 231.7 L649 231.7 L671.2 251.7 L649 272.6 L636 272.6 L607.5 258.2 L579 274 L566 273.6 L541 263.3 L512 273.6 L499 273.6 L475.5 269.7 L465.5 269.7 L440 262.7 Z" fill="#ecc530" stroke="#5a4a20" stroke-width="0.6"/>
<rect x="466.5" y="222.2" width="7.8" height="59.6" fill="#96e650" stroke="#000" stroke-width="3.0"/>
<rect x="538.1" y="221.1" width="5.8" height="19.5" fill="#000"/>
<rect x="538.1" y="263.3" width="5.8" height="18.3" fill="#000"/>
<rect x="604.9" y="221.1" width="5.1" height="24.2" fill="#000"/>
<rect x="604.9" y="258.2" width="5.1" height="23.5" fill="#000"/>
<path d="M528.6 251.6 L537.6 242.6 L537.6 247.2 L551.2 247.2 L551.2 256.0 L537.6 256.0 L537.6 260.6 Z" fill="#000"/>
<path d="M532.2 251.6 L535.2 248.6 L535.2 249.6 L548.8 249.6 L548.8 253.6 L535.2 253.6 L535.2 254.6 Z" fill="#ecc530"/>
<path d="M535.5 251.6 L548.6 251.6" stroke="#f2d870" stroke-width="1.2"/>
<path d="M503.80 222.10 L509.40 222.10 Q511.00 222.10 511.00 223.70 L511.00 280.20 Q511.00 281.80 509.40 281.80 L503.80 281.80 A5.10 29.85 0 0 1 503.80 222.10 Z" fill="#edf5e4" stroke="#6495dc" stroke-width="2.80" stroke-linejoin="round"/>
<path d="M570.60 222.20 L576.20 222.20 Q577.80 222.20 577.80 223.80 L577.80 280.30 Q577.80 281.90 576.20 281.90 L570.60 281.90 A4.70 29.85 0 0 1 570.60 222.20 Z" fill="#dce6f0" stroke="#6495dc" stroke-width="2.80" stroke-linejoin="round"/>
<path d="M640.20 222.20 L646.20 222.20 Q647.80 222.20 647.80 223.80 L647.80 280.50 Q647.80 282.10 646.20 282.10 L640.20 282.10 A4.40 29.95 0 0 1 640.20 222.20 Z" fill="#edf5e4" stroke="#6495dc" stroke-width="2.80" stroke-linejoin="round"/>
<ellipse cx="675" cy="251.7" rx="4.4" ry="3.0" fill="#e6ec3c" stroke="#1c2a44" stroke-width="1.5"/>
<text transform="translate(460.24 213.90) scale(0.8985 1)" font-size="19.77" fill="#000">BP</text>
<text transform="translate(496.43 213.90) scale(0.9042 1)" font-size="19.77" fill="#000">FL</text>
<text transform="translate(529.23 213.90) scale(0.9040 1)" font-size="19.77" fill="#000">FD</text>
<text transform="translate(595.96 214.00) scale(0.9436 1)" font-size="19.62" fill="#000">AD</text>
<text transform="translate(627.92 214.01) scale(0.8828 1)" font-size="19.63" fill="#000">CL</text>
<text transform="translate(663.64 214.01) scale(0.8418 1)" font-size="19.63" fill="#000">LS</text>
<path d="M375 385.6 L425.4 385.6 Q427.2 385.6 427.2 387.4 L427.2 412.4 L423.8 415.8 L376.6 415.8 L373.2 412.4 L373.2 387.4 Q373.2 385.6 375 385.6 Z" fill="#e0ebfa" fill-opacity="0.55" stroke="#6495dc" stroke-width="2.7"/>
<text transform="translate(381.43 405.21) scale(0.9508 1)" font-size="19.21" fill="#000">OBJ</text>
<rect x="389.2" y="444.3" width="21.2" height="6.8" rx="1.6" fill="#ff1a0a"/>
<line x1="392" y1="447.7" x2="407.5" y2="447.7" stroke="#f57a3a" stroke-width="1.4"/>
<rect x="373.1" y="452.4" width="54.3" height="7.6" fill="#eef3fa" stroke="#6495dc" stroke-width="2.8"/>
<line x1="410.3" y1="448.2" x2="452" y2="423.6" stroke="#ff1a0a" stroke-width="3.6" stroke-dasharray="10.8 3.3" stroke-dashoffset="5.6"/>
<path d="M447.5 416.2 L466.1 415.3 L456 430.7 Z" fill="#ff1a0a"/>
<defs><clipPath id="gclip"><rect x="496.6" y="24.6" width="154.5" height="155.2"/></clipPath><clipPath id="gdisc"><circle cx="575.6" cy="103.5" r="57.5"/></clipPath><clipPath id="sclip"><rect x="496.6" y="312.3" width="154.5" height="142.7"/></clipPath><clipPath id="sdisc"><circle cx="575.9" cy="383.8" r="69.0"/></clipPath><linearGradient id="gbg" x1="0" y1="0" x2="1" y2="1"><stop offset="0" stop-color="#46dc22"/><stop offset="1" stop-color="#42c424"/></linearGradient><linearGradient id="rfadeG" gradientUnits="userSpaceOnUse" x1="551" y1="0" x2="566" y2="0"><stop offset="0" stop-color="#fff" stop-opacity="0"/><stop offset="1" stop-color="#fff" stop-opacity="1"/></linearGradient><mask id="gmask"><rect x="490" y="20" width="170" height="170" fill="url(#rfadeG)"/></mask><linearGradient id="rfadeS" gradientUnits="userSpaceOnUse" x1="528" y1="0" x2="556" y2="0"><stop offset="0" stop-color="#fff" stop-opacity="0.05"/><stop offset="1" stop-color="#fff" stop-opacity="1"/></linearGradient><radialGradient id="rcS" gradientUnits="userSpaceOnUse" cx="548" cy="384.4" r="16"><stop offset="0.5" stop-color="#fff" stop-opacity="1"/><stop offset="1" stop-color="#fff" stop-opacity="0"/></radialGradient><mask id="smask"><rect x="490" y="300" width="170" height="170" fill="url(#rfadeS)"/><circle cx="548" cy="384.4" r="16" fill="url(#rcS)"/></mask><linearGradient id="lfadeS" gradientUnits="userSpaceOnUse" x1="528" y1="0" x2="552" y2="0"><stop offset="0" stop-color="#fff" stop-opacity="1"/><stop offset="1" stop-color="#fff" stop-opacity="0"/></linearGradient><mask id="lmask"><rect x="490" y="300" width="170" height="170" fill="url(#lfadeS)"/><circle cx="548" cy="384.4" r="14" fill="#000"/></mask><radialGradient id="sbase" gradientUnits="userSpaceOnUse" cx="548" cy="384.4" r="98"><stop offset="0" stop-color="#5c5c5c"/><stop offset="0.5" stop-color="#525252"/><stop offset="1" stop-color="#444444"/></radialGradient><filter id="blur3" x="-50%" y="-50%" width="200%" height="200%"><feGaussianBlur stdDeviation="5"/></filter><filter id="blur1" x="-50%" y="-50%" width="200%" height="200%"><feGaussianBlur stdDeviation="2"/></filter></defs>
<g clip-path="url(#gclip)">
<rect x="496" y="24" width="156" height="156" fill="url(#gbg)"/>
<ellipse cx="642" cy="44" rx="8" ry="28" transform="rotate(-38 642 44)" fill="#38a426" filter="url(#blur3)" opacity="0.85"/>
<circle cx="575.6" cy="103.5" r="57.5" fill="#3a9a27"/>
<g clip-path="url(#gdisc)"><path d="M553 103.5 L515 88 L515 122 Z" fill="#4aae32" opacity="0.55" filter="url(#blur1)"/><path d="M553 103.5 L528 52 L560 44 Z" fill="#2f8420" opacity="0.35" filter="url(#blur1)"/><path d="M553 103.5 L530 160 L560 165 Z" fill="#348c24" opacity="0.3" filter="url(#blur1)"/></g>
<g clip-path="url(#gdisc)"><g mask="url(#gmask)" fill="none" stroke="#2c8020" stroke-width="1.1">
<circle cx="553.2" cy="103.7" r="3.30"/>
<circle cx="553.2" cy="103.7" r="6.60"/>
<circle cx="553.2" cy="103.7" r="9.90"/>
<circle cx="553.2" cy="103.7" r="13.20"/>
<circle cx="553.2" cy="103.7" r="16.50"/>
<circle cx="553.2" cy="103.7" r="19.80"/>
<circle cx="553.2" cy="103.7" r="23.10"/>
<circle cx="553.2" cy="103.7" r="26.40"/>
<circle cx="553.2" cy="103.7" r="29.70"/>
<circle cx="553.2" cy="103.7" r="33.00"/>
<circle cx="553.2" cy="103.7" r="36.30"/>
<circle cx="553.2" cy="103.7" r="39.60"/>
<circle cx="553.2" cy="103.7" r="42.90"/>
<circle cx="553.2" cy="103.7" r="46.20"/>
<circle cx="553.2" cy="103.7" r="49.50"/>
<circle cx="553.2" cy="103.7" r="52.80"/>
<circle cx="553.2" cy="103.7" r="56.10"/>
<circle cx="553.2" cy="103.7" r="59.40"/>
<circle cx="553.2" cy="103.7" r="62.70"/>
<circle cx="553.2" cy="103.7" r="66.00"/>
<circle cx="553.2" cy="103.7" r="69.30"/>
<circle cx="553.2" cy="103.7" r="72.60"/>
<circle cx="553.2" cy="103.7" r="75.90"/>
<circle cx="553.2" cy="103.7" r="79.20"/>
<circle cx="553.2" cy="103.7" r="82.50"/>
<circle cx="553.2" cy="103.7" r="85.80"/>
<circle cx="553.2" cy="103.7" r="89.10"/>
<circle cx="553.2" cy="103.7" r="92.40"/>
<circle cx="553.2" cy="103.7" r="95.70"/>
<circle cx="553.2" cy="103.7" r="99.00"/>
<circle cx="553.2" cy="103.7" r="102.30"/>
<circle cx="553.2" cy="103.7" r="105.60"/>
<circle cx="553.2" cy="103.7" r="108.90"/>
<circle cx="553.2" cy="103.7" r="112.20"/>
<circle cx="553.2" cy="103.7" r="115.50"/>
</g></g>
<circle cx="575.6" cy="103.5" r="57.1" fill="none" stroke="#2f8a22" stroke-width="0.9"/>
<path d="M496.6 165.4 L533.1 179.8 L496.6 179.8 Z" fill="#0a140a"/>
<line x1="496.6" y1="165.4" x2="533.1" y2="179.8" stroke="#6ef046" stroke-width="1"/>
</g>
<text transform="translate(507.95 154.41) scale(1.0729 1)" font-size="20.20" fill="#fff">10 µm</text>
<rect x="513.4" y="166.4" width="35.1" height="3.9" fill="#fff"/>
<rect x="494.9" y="23.0" width="158.1" height="158.7" fill="none" stroke="#ff1a0a" stroke-width="3.4" stroke-dasharray="10.15 3.7" stroke-dashoffset="6.4"/>
<g clip-path="url(#sclip)">
<rect x="496" y="312" width="156" height="144" fill="#3c3d3c"/>
<g clip-path="url(#sdisc)">
<rect x="500" y="310" width="150" height="150" fill="#777777"/>
<g mask="url(#lmask)" fill="none" stroke="#909090" stroke-width="0.8">
<circle cx="575.9" cy="383.8" r="30.00"/>
<circle cx="575.9" cy="383.8" r="31.75"/>
<circle cx="575.9" cy="383.8" r="33.50"/>
<circle cx="575.9" cy="383.8" r="35.25"/>
<circle cx="575.9" cy="383.8" r="37.00"/>
<circle cx="575.9" cy="383.8" r="38.75"/>
<circle cx="575.9" cy="383.8" r="40.50"/>
<circle cx="575.9" cy="383.8" r="42.25"/>
<circle cx="575.9" cy="383.8" r="44.00"/>
<circle cx="575.9" cy="383.8" r="45.75"/>
<circle cx="575.9" cy="383.8" r="47.50"/>
<circle cx="575.9" cy="383.8" r="49.25"/>
<circle cx="575.9" cy="383.8" r="51.00"/>
<circle cx="575.9" cy="383.8" r="52.75"/>
<circle cx="575.9" cy="383.8" r="54.50"/>
<circle cx="575.9" cy="383.8" r="56.25"/>
<circle cx="575.9" cy="383.8" r="58.00"/>
<circle cx="575.9" cy="383.8" r="59.75"/>
<circle cx="575.9" cy="383.8" r="61.50"/>
<circle cx="575.9" cy="383.8" r="63.25"/>
<circle cx="575.9" cy="383.8" r="65.00"/>
<circle cx="575.9" cy="383.8" r="66.75"/>
<circle cx="575.9" cy="383.8" r="68.50"/>
</g>
<g mask="url(#smask)">
<rect x="500" y="310" width="150" height="150" fill="url(#sbase)"/>
<g fill="none" stroke="#a2a2a2" stroke-width="1.6">
<circle cx="548" cy="384.4" r="3.62"/>
<circle cx="548" cy="384.4" r="7.24"/>
<circle cx="548" cy="384.4" r="10.86"/>
<circle cx="548" cy="384.4" r="14.48"/>
<circle cx="548" cy="384.4" r="18.10"/>
<circle cx="548" cy="384.4" r="21.72"/>
<circle cx="548" cy="384.4" r="25.34"/>
<circle cx="548" cy="384.4" r="28.96"/>
<circle cx="548" cy="384.4" r="32.58"/>
<circle cx="548" cy="384.4" r="36.20"/>
<circle cx="548" cy="384.4" r="39.82"/>
<circle cx="548" cy="384.4" r="43.44"/>
<circle cx="548" cy="384.4" r="47.06"/>
<circle cx="548" cy="384.4" r="50.68"/>
<circle cx="548" cy="384.4" r="54.30"/>
<circle cx="548" cy="384.4" r="57.92"/>
<circle cx="548" cy="384.4" r="61.54"/>
<circle cx="548" cy="384.4" r="65.16"/>
<circle cx="548" cy="384.4" r="68.78"/>
<circle cx="548" cy="384.4" r="72.40"/>
<circle cx="548" cy="384.4" r="76.02"/>
<circle cx="548" cy="384.4" r="79.64"/>
<circle cx="548" cy="384.4" r="83.26"/>
<circle cx="548" cy="384.4" r="86.88"/>
<circle cx="548" cy="384.4" r="90.50"/>
<circle cx="548" cy="384.4" r="94.12"/>
<circle cx="548" cy="384.4" r="97.74"/>
</g></g></g>
<circle cx="548" cy="384.4" r="1.3" fill="#4a4a4a"/>
</g>
<text transform="translate(508.13 431.24) scale(1.0521 1)" font-size="20.55" fill="#fff">5 µm</text>
<rect x="514.8" y="441.3" width="21.2" height="4.1" fill="#fff"/>
<rect x="494.9" y="310.5" width="158.1" height="146.6" fill="none" stroke="#ff1a0a" stroke-width="3.5" stroke-dasharray="10.1 3.7" stroke-dashoffset="7.9"/>
</svg>
</body></html>
